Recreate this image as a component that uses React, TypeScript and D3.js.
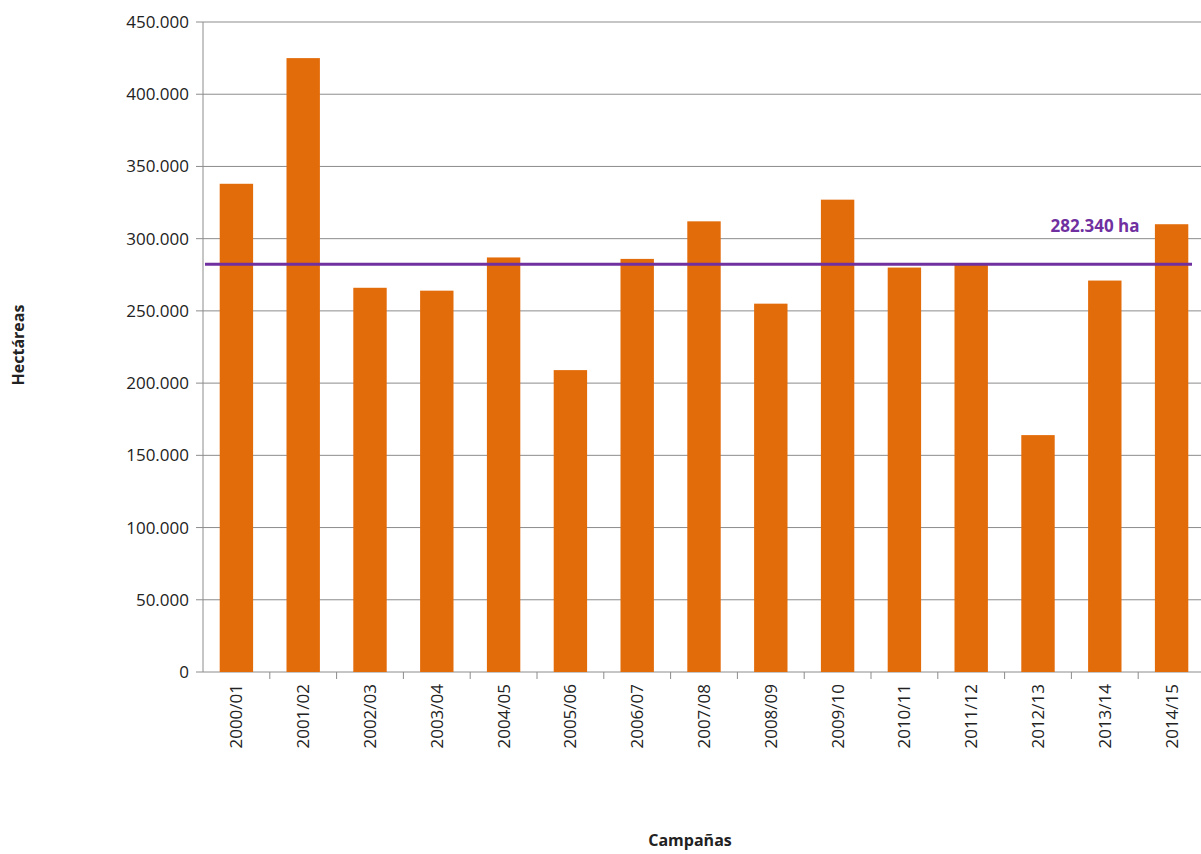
import * as d3 from "d3";

const campaigns = ["2000/01","2001/02","2002/03","2003/04","2004/05","2005/06","2006/07","2007/08","2008/09","2009/10","2010/11","2011/12","2012/13","2013/14","2014/15"];
const hectares = [338000,425000,266000,264000,287000,209000,286000,312000,255000,327000,280000,283000,164000,271000,310000];
const average = 282340;
const yTicks = [0,50000,100000,150000,200000,250000,300000,350000,400000,450000];

const W = 1201, H = 854;
const left = 203, right = 1205, top = 22, bottom = 672;
const font = "'Open Sans', sans-serif";

const fmt = (v: number) => v === 0 ? "0" : d3.format(",")(v).replace(/,/g, ".");

export default function App() {
  const x = d3.scaleBand<string>().domain(campaigns).range([left, right]).paddingInner(0.5).paddingOuter(0.25);
  const y = d3.scaleLinear().domain([0, 450000]).range([bottom, top]);
  const step = x.step();
  return (
    <svg width={W} height={H} style={{ position: "absolute", left: 0, top: 0, background: "#fff" }} fontFamily={font}>
      {yTicks.map((t) => (
        <g key={t}>
          <line x1={left} x2={W} y1={y(t)} y2={y(t)} stroke="#8c8c8c" strokeWidth={1} />
          <line x1={left - 7} x2={left} y1={y(t)} y2={y(t)} stroke="#8c8c8c" />
          <text x={189} y={y(t)} dy="0.35em" textAnchor="end" fontSize={17} fill="#222">{fmt(t)}</text>
        </g>
      ))}
      <line x1={left} x2={left} y1={top} y2={bottom} stroke="#8c8c8c" />
      {campaigns.map((c, i) => (
        <line key={c} x1={left + step * (i + 1)} x2={left + step * (i + 1)} y1={bottom} y2={bottom + 7} stroke="#8c8c8c" />
      ))}
      {campaigns.map((c, i) => (
        <rect key={c} x={x(c)!} width={x.bandwidth()} y={y(hectares[i])} height={bottom - y(hectares[i])} fill="#e36c0a" />
      ))}
      <line x1={left + 2} x2={1192} y1={y(average)} y2={y(average)} stroke="#7030a0" strokeWidth={3} />
      <text x={1095} y={232} textAnchor="middle" fontSize={17} fontWeight="bold" fill="#7030a0">282.340 ha</text>
      {campaigns.map((c) => {
        const cx = x(c)! + x.bandwidth() / 2;
        return (
          <text key={c} transform={`translate(${cx},${bottom + 12}) rotate(-90)`} textAnchor="end" dy="0.35em" fontSize={17} fill="#222">{c}</text>
        );
      })}
      <text transform={`translate(24,345) rotate(-90)`} textAnchor="middle" fontSize={16} fontWeight="bold" fill="#222">Hectáreas</text>
      <text x={690} y={846} textAnchor="middle" fontSize={16} fontWeight="bold" fill="#222">Campañas</text>
    </svg>
  );
}
